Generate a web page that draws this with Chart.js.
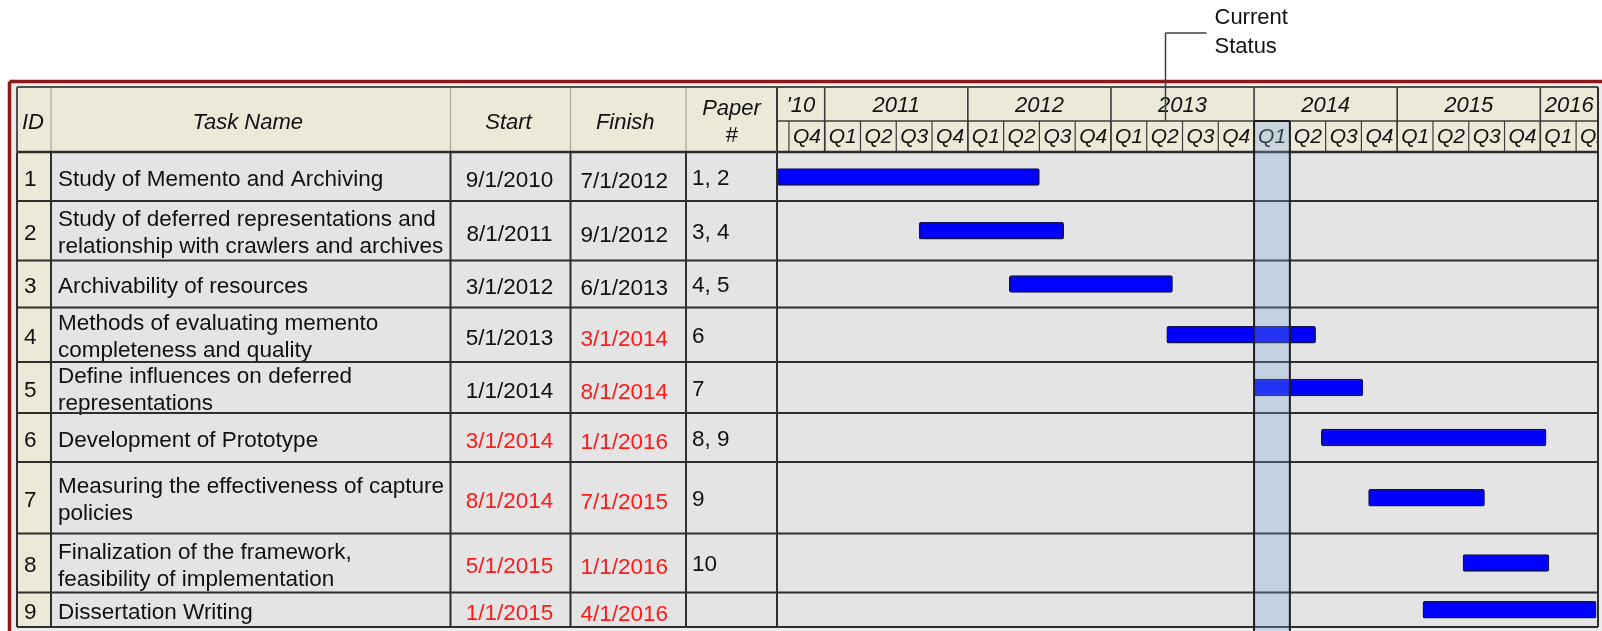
<!DOCTYPE html>
<html>
<head>
<meta charset="utf-8">
<script src="https://cdn.jsdelivr.net/npm/chart.js@4.4.1/dist/chart.umd.min.js"></script>
<style>
  html, body { margin: 0; padding: 0; background: #fff; }
  canvas { display: block; }
</style>
</head>
<body>
<canvas id="gantt" width="1602" height="631"></canvas>
<script>
// Task table
const taskIds = ['1', '2', '3', '4', '5', '6', '7', '8', '9'];
const taskNames = [
    ['Study of Memento and Archiving'],
    ['Study of deferred representations and', 'relationship with crawlers and archives'],
    ['Archivability of resources'],
    ['Methods of evaluating memento', 'completeness and quality'],
    ['Define influences on deferred', 'representations'],
    ['Development of Prototype'],
    ['Measuring the effectiveness of capture', 'policies'],
    ['Finalization of the framework,', 'feasibility of implementation'],
    ['Dissertation Writing']
];
const startDates = ['9/1/2010', '8/1/2011', '3/1/2012', '5/1/2013', '1/1/2014', '3/1/2014', '8/1/2014', '5/1/2015', '1/1/2015'];
const finishDates = ['7/1/2012', '9/1/2012', '6/1/2013', '3/1/2014', '8/1/2014', '1/1/2016', '7/1/2015', '1/1/2016', '4/1/2016'];
const paperNums = ['1, 2', '3, 4', '4, 5', '6', '7', '8, 9', '9', '10', ''];

// Bars as drawn on the timeline (decimal years)
const barStart = [2010.67, 2011.66, 2012.29, 2013.39, 2014.00, 2014.47, 2014.80, 2015.46, 2015.18];
const barEnd   = [2012.50, 2012.67, 2013.43, 2014.43, 2014.76, 2016.04, 2015.61, 2016.06, 2016.39];

// Timeline header
const yearLabels = ["'10", '2011', '2012', '2013', '2014', '2015', '2016'];
const yearValues = [2010, 2011, 2012, 2013, 2014, 2015, 2016];
const quarterLabels = ['Q1', 'Q2', 'Q3', 'Q4'];
const timelineStart = 2010 + 8 / 12;
const timelineEnd = 2016.403;
const statusQuarter = 2014.0; // Q1 2014 is the current status
const statusCallout = 2013.375;

// Layout (pixels)
const FONT = '"Liberation Sans", Arial, Helvetica, sans-serif';
const ROW_H = [48, 59.5, 47, 54.5, 51, 49, 71.5, 59, 34.5];
const COL_X = [17, 51, 450.5, 570.5, 686, 777];
const HEAD_TOP = 87, HEAD_MID = 121, HEAD_BOT = 153;
const TABLE_RIGHT = 1598, TABLE_BOTTOM = 627;
const W = 1602, H = 631;

const rowTops = [];
let acc = 0;
ROW_H.forEach(h => { rowTops.push(acc); acc += h; });
const totalH = acc;
const rowMid = rowTops.map((t, i) => t + ROW_H[i] / 2);

function toYear(s) {
    const [m, d, y] = s.split('/').map(Number);
    return y + (m - 1) / 12 + (d - 1) / 365;
}

function line(ctx, x1, y1, x2, y2, color, w) {
    ctx.strokeStyle = color;
    ctx.lineWidth = w;
    ctx.beginPath();
    ctx.moveTo(x1, y1);
    ctx.lineTo(x2, y2);
    ctx.stroke();
}

function label(ctx, str, x, y, font, color, align) {
    ctx.font = font;
    ctx.fillStyle = color;
    ctx.textAlign = align || 'left';
    ctx.textBaseline = 'middle';
    ctx.fillText(str, x, y);
}

const ganttTable = {
    id: 'ganttTable',
    beforeDatasetsDraw(chart) {
        const { ctx, scales: { x, y } } = chart;
        ctx.save();
        ctx.fillStyle = '#fff';
        ctx.fillRect(0, 0, W, H);
        ctx.fillStyle = '#ececec';
        ctx.fillRect(10, 82, W, H);

        // backgrounds
        ctx.fillStyle = '#ece9d8';
        ctx.fillRect(COL_X[0], HEAD_TOP, TABLE_RIGHT - COL_X[0], HEAD_BOT - HEAD_TOP);
        ctx.fillStyle = '#e4e4e4';
        ctx.fillRect(COL_X[0], HEAD_BOT, TABLE_RIGHT - COL_X[0], TABLE_BOTTOM - HEAD_BOT);
        ctx.fillStyle = '#ece9d8';
        ctx.fillRect(COL_X[0], HEAD_BOT, COL_X[1] - COL_X[0], TABLE_BOTTOM - HEAD_BOT);

        // red frame
        line(ctx, 9.5, 81.5, W, 81.5, '#8a1a1a', 3.5);
        line(ctx, 9.5, 81.5, 9.5, H, '#8a1a1a', 3.5);

        // table header separators (light)
        for (let i = 1; i < COL_X.length - 1; i++) {
            line(ctx, COL_X[i], HEAD_TOP, COL_X[i], HEAD_BOT, '#a9a79c', 1.2);
        }
        line(ctx, COL_X[0], HEAD_TOP, TABLE_RIGHT, HEAD_TOP, '#505050', 2);

        const ifont = 'italic 22px ' + FONT;
        const hm = (HEAD_TOP + HEAD_BOT) / 2 + 3;
        label(ctx, 'ID', 22, hm, ifont, '#111');
        label(ctx, 'Task Name', (COL_X[1] + COL_X[2]) / 2 - 3, hm, ifont, '#111', 'center');
        label(ctx, 'Start', (COL_X[2] + COL_X[3]) / 2 - 2, hm, ifont, '#111', 'center');
        label(ctx, 'Finish', (COL_X[3] + COL_X[4]) / 2 - 3, hm, ifont, '#111', 'center');
        label(ctx, 'Paper', (COL_X[4] + COL_X[5]) / 2, hm - 14, ifont, '#111', 'center');
        label(ctx, '#', (COL_X[4] + COL_X[5]) / 2, hm + 13, ifont, '#111', 'center');

        // timeline header: years
        const left = x.left, right = x.right;
        ctx.save();
        ctx.beginPath();
        ctx.rect(left, HEAD_TOP, right - left, HEAD_BOT - HEAD_TOP);
        ctx.clip();
        yearValues.forEach((yr, i) => {
            const a = Math.max(x.getPixelForValue(yr), left);
            const b = Math.min(x.getPixelForValue(yr + 1), right);
            if (yr > timelineStart) line(ctx, a, HEAD_TOP, a, HEAD_BOT, '#3c3c3c', 1.6);
            label(ctx, yearLabels[i], (a + b) / 2, (HEAD_TOP + HEAD_MID) / 2 + 2, 'italic 22px ' + FONT, '#111', 'center');
        });
        line(ctx, left, HEAD_MID, right, HEAD_MID, '#3c3c3c', 1.6);
        // quarters
        for (let v = Math.ceil(timelineStart * 4) / 4; v < timelineEnd; v += 0.25) {
            const a = x.getPixelForValue(v);
            line(ctx, a, HEAD_MID, a, HEAD_BOT, '#3c3c3c', 1.2);
            const q = Math.round((v - Math.floor(v)) * 4);
            label(ctx, quarterLabels[q], a + 18, (HEAD_MID + HEAD_BOT) / 2, 'italic 21px ' + FONT, '#111', 'center');
        }
        ctx.restore();

        // table body text
        const bfont = '22.5px ' + FONT;
        ROW_H.forEach((h, i) => {
            const cy = y.getPixelForValue(rowMid[i]) + 2;
            label(ctx, taskIds[i], 24, cy + 1, bfont, '#111');
            const names = taskNames[i];
            names.forEach((s, k) => {
                label(ctx, s, 58, cy + 1 + (k - (names.length - 1) / 2) * 27, bfont, '#111');
            });
            const sc = toYear(startDates[i]) > statusQuarter ? '#ff1a1a' : '#111';
            const fc = toYear(finishDates[i]) > statusQuarter ? '#ff1a1a' : '#111';
            label(ctx, startDates[i], (COL_X[2] + COL_X[3]) / 2 - 1, cy + 2, bfont, sc, 'center');
            label(ctx, finishDates[i], (COL_X[3] + COL_X[4]) / 2 - 4, cy + 3, bfont, fc, 'center');
            label(ctx, paperNums[i], COL_X[4] + 6, cy, bfont, '#111');
        });
        ctx.restore();
    },
    afterDatasetsDraw(chart) {
        const { ctx, scales: { x, y } } = chart;
        ctx.save();
        // row lines
        line(ctx, COL_X[0], HEAD_BOT - 1, TABLE_RIGHT, HEAD_BOT - 1, '#2e2e2e', 2.5);
        rowTops.slice(1).forEach(t => {
            const py = y.getPixelForValue(t);
            line(ctx, COL_X[0], py, TABLE_RIGHT, py, '#2e2e2e', 2);
        });
        line(ctx, COL_X[0], TABLE_BOTTOM, TABLE_RIGHT, TABLE_BOTTOM, '#2e2e2e', 2);
        // column lines in body
        COL_X.forEach(cx => line(ctx, cx, HEAD_BOT, cx, TABLE_BOTTOM, '#2e2e2e', 2));
        line(ctx, COL_X[0], HEAD_TOP, COL_X[0], HEAD_BOT, '#505050', 2);
        line(ctx, COL_X[5], HEAD_TOP, COL_X[5], HEAD_BOT, '#3c3c3c', 2);
        line(ctx, TABLE_RIGHT, HEAD_TOP, TABLE_RIGHT, TABLE_BOTTOM, '#2e2e2e', 2);

        // current status band
        const a = x.getPixelForValue(statusQuarter);
        const b = x.getPixelForValue(statusQuarter + 0.25);
        ctx.fillStyle = 'rgba(120, 165, 225, 0.3)';
        ctx.fillRect(a, HEAD_MID, b - a, H - HEAD_MID);
        line(ctx, a, HEAD_MID, a, H, '#1e1e1e', 2);
        line(ctx, b, HEAD_MID, b, H, '#1e1e1e', 2);
        line(ctx, a, HEAD_MID, b, HEAD_MID, '#1e1e1e', 2);

        // callout
        const cx = Math.round(x.getPixelForValue(statusCallout)) + 0.5;
        line(ctx, cx, 33, cx, HEAD_MID, '#404040', 1.5);
        line(ctx, cx, 33, cx + 41, 33, '#404040', 1.5);
        label(ctx, 'Current', cx + 49, 18, '22px ' + FONT, '#111');
        label(ctx, 'Status', cx + 49, 47, '22px ' + FONT, '#111');
        ctx.restore();
    }
};

new Chart(document.getElementById('gantt'), {
    type: 'bar',
    data: {
        datasets: [{
            data: barStart.map((s, i) => ({ x: [s, barEnd[i]], y: rowMid[i] })),
            backgroundColor: '#0000ff',
            borderColor: '#14144a',
            borderWidth: 1.5,
            borderRadius: 2,
            borderSkipped: false,
            barThickness: 17
        }]
    },
    options: {
        indexAxis: 'y',
        responsive: false,
        animation: false,
        devicePixelRatio: 1,
        layout: { padding: { left: 777, right: W - TABLE_RIGHT, top: HEAD_BOT, bottom: H - TABLE_BOTTOM } },
        plugins: { legend: { display: false }, tooltip: { enabled: false } },
        scales: {
            x: { type: 'linear', min: timelineStart, max: timelineEnd, offset: false, display: false },
            y: { type: 'linear', min: 0, max: totalH, reverse: true, offset: false, display: false }
        }
    },
    plugins: [ganttTable]
});
</script>
</body>
</html>
